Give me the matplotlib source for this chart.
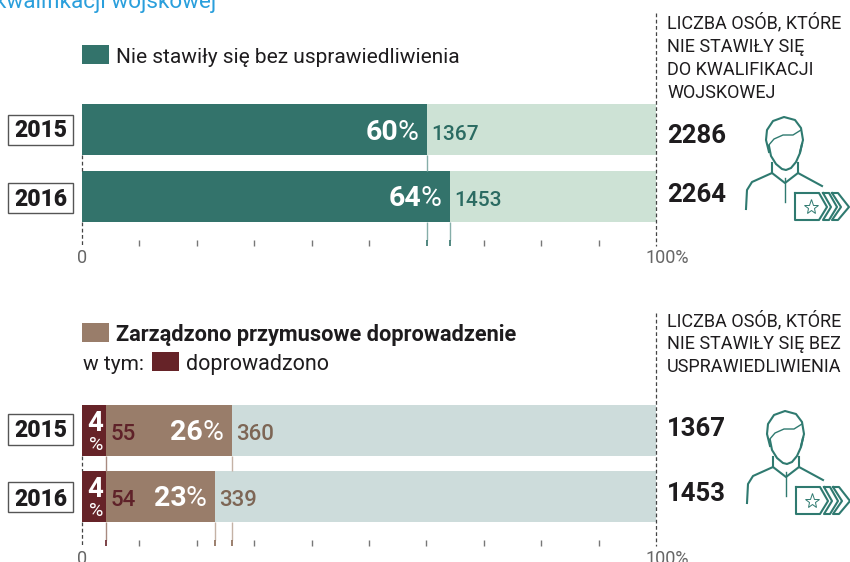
import matplotlib
matplotlib.use('Agg')
import matplotlib.pyplot as plt
from matplotlib.patches import Rectangle

plt.rcParams['font.family'] = ['Roboto', 'DejaVu Sans']

W, H = 850, 562

# dane
lata = ['2015', '2016']
nie_stawily_proc = [60.1, 64.1]
nie_stawily_etyk = ['60', '64']
nie_stawily_liczba = ['1367', '1453']
wszyscy = ['2286', '2264']
doprowadzenie_proc = [26.1, 23.2]
doprowadzenie_etyk = ['26', '23']
doprowadzenie_liczba = ['360', '339']
doprowadzono_proc = [4.2, 4.2]
doprowadzono_etyk = ['4', '4']
doprowadzono_liczba = ['55', '54']
bez_uspraw = ['1367', '1453']
podzialka_gora = [10, 20, 30, 40, 50, 70, 80, 90]
podzialka_dol = [10, 20, 30, 40, 50, 60, 70, 80, 90]

ZIELONY = '#33736b'
ZIELONY_JASNY = '#cde2d5'
BRAZ = '#997d6a'
BORDO = '#662328'
SZARY_JASNY = '#cddcdb'
CZARNY = '#1e1c1e'
SZARY = '#666666'
KRESKI = (0, (3, 2))

fig = plt.figure(figsize=(W / 100, H / 100), dpi=100)

# os x w procentach, os y w pikselach rysunku
ax = fig.add_axes([82 / W, 0, (656 - 82) / W, 1])
ax.set_xlim(0, 100)
ax.set_ylim(H, 0)
ax.axis('off')

# warstwa na teksty i ikony, w pikselach
nak = fig.add_axes([0, 0, 1, 1])
nak.set_xlim(0, W)
nak.set_ylim(H, 0)
nak.axis('off')
nak.patch.set_alpha(0)


def pionowa(x, y0, y1, kolor, lw=1.0, **kw):
    ax.plot([x, x], [y0, y1], color=kolor, lw=lw, clip_on=False, solid_capstyle='butt', **kw)


def na_piksele(x):
    return nak.transData.inverted().transform(ax.transData.transform((x, 0)))[0]


def panel(gora, dol, tlo, y_podz, podzialka):
    # tlo slupkow i podzialka
    for g, d in zip(gora, dol):
        ax.barh((g + d) / 2, 100, height=d - g, color=tlo, linewidth=0)
    for p in podzialka:
        pionowa(p, y_podz, y_podz + 6, '#777777', 1.0)
    pionowa(0, dol[0], gora[1], '#444444', 0.9, linestyle=KRESKI)
    pionowa(0, dol[1], y_podz + 6, '#444444', 0.9, linestyle=KRESKI)


def rok(y0, y1, baza, tekst):
    nak.add_patch(Rectangle((8, y0), 65, y1 - y0, facecolor='white', edgecolor='#555555', lw=1.0))
    nak.text(40.5, baza, tekst, ha='center', va='baseline', fontsize=16.5,
             fontweight='black', color=CZARNY)


def ikona(dx, dy):
    k = '#2f7a70'
    linie = [
        [(769, 152), (766, 140), (767, 130), (773, 121), (784, 117), (795, 120), (801, 128), (803, 140), (800, 152)],
        [(768, 146), (774, 139), (783, 135), (793, 135), (801, 130)],
        [(769, 146), (771, 156), (776, 164), (782, 169), (786, 170), (791, 168), (796, 162), (800, 153), (802, 144)],
        [(772, 163), (772, 173), (785, 183), (798, 173), (798, 163)],
        [(772, 173), (752, 182), (747, 190), (746, 209)],
        [(798, 173), (822, 186)],
        [(785, 178), (785, 202)],
        [(795, 193), (819, 193), (827, 207), (819, 220), (795, 220), (795, 193)],
        [(823, 193), (829, 193), (837, 207), (829, 220), (823, 220), (831, 207), (823, 193)],
        [(832, 193), (838, 193), (849, 207), (838, 220), (832, 220), (841, 207), (832, 193)],
    ]
    for i, l in enumerate(linie):
        nak.plot([p[0] + dx for p in l], [p[1] + dy for p in l], color=k,
                 lw=1.0 if i in (1, 6) else 1.5, solid_joinstyle='round')
    nak.plot([811 + dx], [207 + dy], marker='*', ms=11, mfc='none', mec=k, mew=0.7)


def procent(px, baza, etyk):
    nak.text(px - 8.5, baza, '%', ha='right', color='white', fontsize=20.5)
    nak.text(px - 29, baza, etyk, ha='right', color='white', fontsize=20.5, fontweight='bold')


# --- panel gorny ---
nak.text(-5, 8, 'kwalifikacji wojskowej', color='#2a9fdc', fontsize=16.2, va='baseline')
nak.add_patch(Rectangle((82, 45), 27, 19, color=ZIELONY, lw=0))
nak.text(116, 63, 'Nie stawiły się bez usprawiedliwienia', fontsize=15, color=CZARNY)

gora1 = [104, 171]
dol1 = [155, 222]
panel(gora1, dol1, ZIELONY_JASNY, 240, podzialka_gora)
pionowa(100, 13, 246, '#444444', 0.9, linestyle=KRESKI)
for i in range(2):
    ax.barh((gora1[i] + dol1[i]) / 2, nie_stawily_proc[i], height=dol1[i] - gora1[i], color=ZIELONY, linewidth=0)
    x = nie_stawily_proc[i]
    if i == 0:
        pionowa(x, dol1[0], gora1[1], '#86aea9', 1.0)
    pionowa(x, dol1[1], 240, '#86aea9', 1.0)
    pionowa(x, 240, 246, ZIELONY, 1.2)
    px = na_piksele(x)
    baza = 139.5 + 67 * i
    procent(px, baza, nie_stawily_etyk[i])
    nak.text(px + 4.5, baza, nie_stawily_liczba[i], color='#2b6b62', fontsize=15, fontweight='medium')
    rok([115, 183][i], [145, 213][i], [137, 206][i], lata[i])
nak.text(667, 143, wszyscy[0], fontsize=18.5, fontweight='bold', color=CZARNY)
nak.text(667, 202, wszyscy[1], fontsize=18.5, fontweight='bold', color=CZARNY)
for y, t in zip([28, 52, 75, 98], ['LICZBA OSÓB, KTÓRE', 'NIE STAWIŁY SIĘ', 'DO KWALIFIKACJI', 'WOJSKOWEJ']):
    nak.text(667, y, t, fontsize=13, color=CZARNY)
nak.text(82, 263, '0', ha='center', fontsize=13, color=SZARY)
nak.text(667, 263, '100%', ha='center', fontsize=13, color=SZARY)
ikona(0, 0)

# --- panel dolny ---
nak.add_patch(Rectangle((82, 323), 27, 19, color=BRAZ, lw=0))
nak.text(116, 341, 'Zarządzono przymusowe doprowadzenie', fontsize=15.7, fontweight='bold', color=CZARNY)
nak.text(83, 370, 'w tym:', fontsize=15, color=CZARNY)
nak.add_patch(Rectangle((152, 352), 27, 19, color=BORDO, lw=0))
nak.text(186, 370, 'doprowadzono', fontsize=15.5, color=CZARNY)

gora2 = [405, 471]
dol2 = [456, 522]
panel(gora2, dol2, SZARY_JASNY, 540, podzialka_dol)
pionowa(100, 313, 546, '#444444', 0.9, linestyle=KRESKI)
for i in range(2):
    srodek = (gora2[i] + dol2[i]) / 2
    h = dol2[i] - gora2[i]
    ax.barh(srodek, doprowadzenie_proc[i], height=h, color=BRAZ, linewidth=0)
    ax.barh(srodek, doprowadzono_proc[i], height=h, color=BORDO, linewidth=0)
    px = na_piksele(doprowadzenie_proc[i])
    baza = 440 + 66.5 * i
    procent(px, baza, doprowadzenie_etyk[i])
    nak.text(px + 4, baza, doprowadzenie_liczba[i], color='#7d6655', fontsize=16, fontweight='medium')
    nak.text(111, baza, doprowadzono_liczba[i], color='#5f2229', fontsize=16, fontweight='medium')
    nak.text(95, 431 + 66 * i, doprowadzono_etyk[i], ha='center', color='white', fontsize=20, fontweight='bold')
    nak.text(96, 450 + 66 * i, '%', ha='center', color='white', fontsize=14)
    rok([414, 482][i], [445, 512][i], [437, 506][i], lata[i])

# linie prowadzace do podzialki
pionowa(doprowadzono_proc[0], dol2[0], gora2[1], '#a88a80')
pionowa(doprowadzono_proc[0], dol2[1], 540, '#a88a80')
pionowa(doprowadzono_proc[0], 540, 546, BORDO, 1.2)
pionowa(doprowadzenie_proc[0], dol2[0], gora2[1], '#c4b2a5')
pionowa(doprowadzenie_proc[0], dol2[1], 540, '#c4b2a5')
pionowa(doprowadzenie_proc[0], 540, 546, '#8a6a55', 1.2)
pionowa(doprowadzenie_proc[1], dol2[1], 540, '#c4b2a5')
pionowa(doprowadzenie_proc[1], 540, 546, '#8a6a55', 1.2)

nak.text(667, 436, bez_uspraw[0], fontsize=18.5, fontweight='bold', color=CZARNY)
nak.text(667, 501, bez_uspraw[1], fontsize=18.5, fontweight='bold', color=CZARNY)
for y, t in zip([326, 349, 372], ['LICZBA OSÓB, KTÓRE', 'NIE STAWIŁY SIĘ BEZ', 'USPRAWIEDLIWIENIA']):
    nak.text(667, y, t, fontsize=13, color=CZARNY)
nak.text(82, 564, '0', ha='center', fontsize=13, color=SZARY)
nak.text(667, 564, '100%', ha='center', fontsize=13, color=SZARY)
ikona(1, 294)

fig.savefig('out.png', dpi=100)
